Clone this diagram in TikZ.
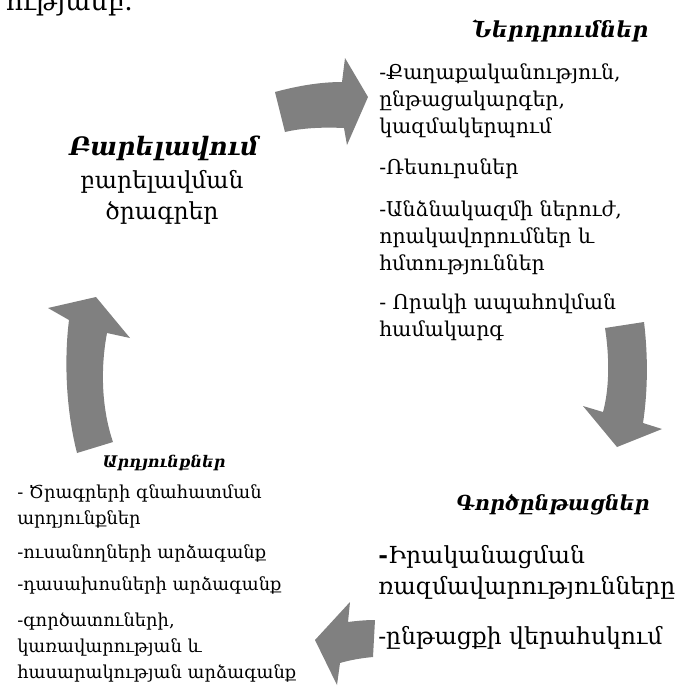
\documentclass[tikz,border=0pt]{standalone}
\usepackage{fontspec}
\setmainfont{DejaVu Serif}
\definecolor{arrowgray}{RGB}{128,128,128}
\tikzset{bodytext/.style = {font=\fontsize{15.3}{20.6}\selectfont, align=left, inner sep=0, anchor=north west}}
\tikzset{smalltext/.style = {font=\fontsize{13.4}{19.5}\selectfont, align=left, inner sep=0, anchor=north west}}
\tikzset{bigtext/.style = {font=\fontsize{17.6}{23.3}\selectfont, inner sep=0}}
\tikzset{headtext/.style = {inner sep=0, anchor=base}}
\tikzset{cyclearrow/.style = {fill=arrowgray, draw=none}}
\begin{document}
\begin{tikzpicture}[x=0.75pt, y=-0.75pt]
            \useasboundingbox (0,0) rectangle (685,687);
            % line cut off above
            \node [bigtext, font=\fontsize{20}{24}\selectfont, anchor=base east] (prev) at (133,10) {ությամբ.};
            % the four arrows
            \fill [cyclearrow] (275,92) .. controls (297,86) and (320,82) .. (342,82) -- (345,58) -- (368,97) -- (347,145) -- (344,128) .. controls (322,127) and (302,128) .. (285,132) -- cycle;
            \fill [cyclearrow] (605,328) .. controls (610,360) and (609,390) .. (603,412) -- (583,406) -- (617,447) -- (662,429) -- (643,423) .. controls (648,390) and (648,355) .. (644,322) -- cycle;
            \fill [cyclearrow] (375,620) .. controls (365,620) and (356,621) .. (348,622) -- (350,602) -- (315,640) -- (337,685) -- (340,663) .. controls (350,660) and (362,658) .. (373,657) -- cycle;
            \fill [cyclearrow] (77,453) .. controls (66,410) and (64,360) .. (69,320) -- (48,308) -- (96,297) -- (130,338) -- (107,333) .. controls (100,370) and (102,410) .. (113,442) -- cycle;
            % inputs
            \node [headtext, font=\fontsize{16.5}{20}\selectfont\bfseries\itshape] (inputs) at (560,37) {Ներդրումներ};
            \node [bodytext] (policy) at (379,63) {-Քաղաքականություն,\\ընթացակարգեր,\\կազմակերպում};
            \node [bodytext] (resources) at (379,158) {-Ռեսուրսներ};
            \node [bodytext] (staff) at (379,200) {-Անձնակազմի ներուժ,\\որակավորումներ և\\հմտություններ};
            \node [bodytext] (quality) at (379,293) {- Որակի ապահովման\\համակարգ};
            % processes
            \node [headtext, font=\fontsize{15.5}{18}\selectfont\bfseries\itshape] (processes) at (553,510) {Գործընթացներ};
            \node [bigtext, align=left, anchor=north west] (strategy) at (378,545) {{\bfseries -}Իրականացման\\ռազմավարությունները};
            \node [bigtext, align=left, anchor=north west] (monitor) at (378,626) {-ընթացքի վերահսկում};
            % outcomes
            \node [headtext, font=\fontsize{12}{14}\selectfont\bfseries\itshape] (outcomes) at (164,467) {Արդյունքներ};
            \node [smalltext] (evaluation) at (17,484) {- Ծրագրերի գնահատման\\արդյունքներ};
            \node [smalltext] (students) at (17,544) {-ուսանողների արձագանք};
            \node [smalltext] (lecturers) at (17,576) {-դասախոսների արձագանք};
            \node [smalltext] (employers) at (17,612) {-գործատուների,\\կառավարության և\\հասարակության արձագանք};
            % improvement
            \node [headtext, font=\fontsize{19}{22}\selectfont\bfseries\itshape] (improve) at (164,155) {Բարելավում};
            \node [bigtext, align=center, anchor=north] (programs) at (162,170) {բարելավման\\ծրագրեր};
        \end{tikzpicture}
\end{document}
